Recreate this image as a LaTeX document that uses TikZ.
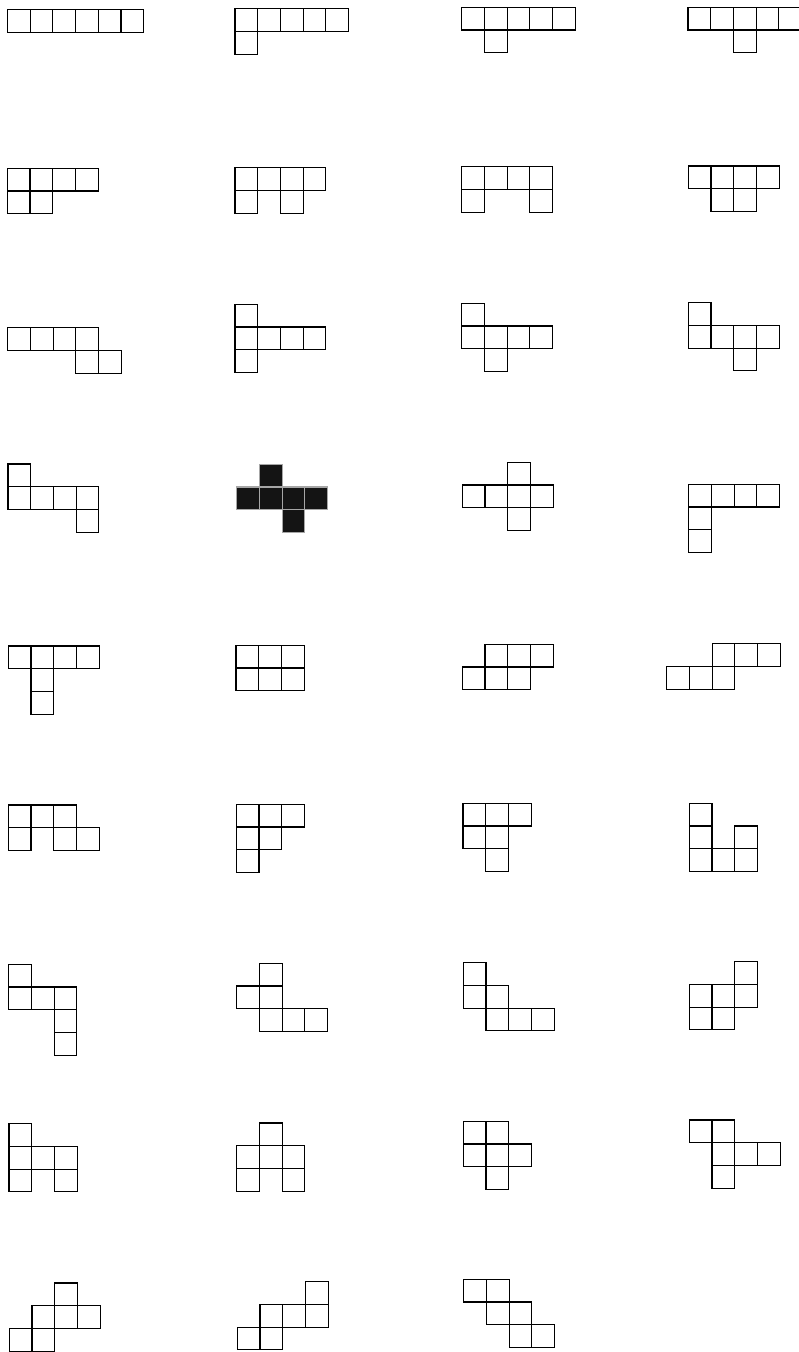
\documentclass[tikz,border=0pt]{standalone}
\usepackage{tikz}

\begin{document}
\begin{tikzpicture}[x=0.02cm,y=-0.02cm,
    cell/.style={draw=black,line width=0.6pt,fill=white},
    dark/.style={draw=black!35,line width=0.6pt,fill=black!92}]
    \useasboundingbox (0,0) rectangle (798,1352);

    % Row 1
    \begin{scope}[shift={(7.5,9.5)}]
        \foreach \c/\r in {0/0,1/0,2/0,3/0,4/0,5/0} \draw[cell] (\c*22.7,\r*22.7) rectangle ++(22.7,22.7);
    \end{scope}
    \begin{scope}[shift={(235,8.7)}]
        \foreach \c/\r in {0/0,1/0,2/0,3/0,4/0,0/1} \draw[cell] (\c*22.7,\r*22.7) rectangle ++(22.7,22.7);
    \end{scope}
    \begin{scope}[shift={(461.7,7.3)}]
        \foreach \c/\r in {0/0,1/0,2/0,3/0,4/0,1/1} \draw[cell] (\c*22.7,\r*22.7) rectangle ++(22.7,22.7);
    \end{scope}
    \begin{scope}[shift={(688,7.3)}]
        \foreach \c/\r in {0/0,1/0,2/0,3/0,4/0,2/1} \draw[cell] (\c*22.7,\r*22.7) rectangle ++(22.7,22.7);
    \end{scope}

    % Row 2
    \begin{scope}[shift={(7.3,168.3)}]
        \foreach \c/\r in {0/0,1/0,2/0,3/0,0/1,1/1} \draw[cell] (\c*22.7,\r*22.7) rectangle ++(22.7,22.7);
    \end{scope}
    \begin{scope}[shift={(235,167.7)}]
        \foreach \c/\r in {0/0,1/0,2/0,3/0,0/1,2/1} \draw[cell] (\c*22.7,\r*22.7) rectangle ++(22.7,22.7);
    \end{scope}
    \begin{scope}[shift={(461.7,166.7)}]
        \foreach \c/\r in {0/0,1/0,2/0,3/0,0/1,3/1} \draw[cell] (\c*22.7,\r*22.7) rectangle ++(22.7,22.7);
    \end{scope}
    \begin{scope}[shift={(688.3,166)}]
        \foreach \c/\r in {0/0,1/0,2/0,3/0,1/1,2/1} \draw[cell] (\c*22.7,\r*22.7) rectangle ++(22.7,22.7);
    \end{scope}

    % Row 3
    \begin{scope}[shift={(7.7,327.7)}]
        \foreach \c/\r in {0/0,1/0,2/0,3/0,3/1,4/1} \draw[cell] (\c*22.7,\r*22.7) rectangle ++(22.7,22.7);
    \end{scope}
    \begin{scope}[shift={(235,304.3)}]
        \foreach \c/\r in {0/0,0/1,1/1,2/1,3/1,0/2} \draw[cell] (\c*22.7,\r*22.7) rectangle ++(22.7,22.7);
    \end{scope}
    \begin{scope}[shift={(461.7,303.3)}]
        \foreach \c/\r in {0/0,0/1,1/1,2/1,3/1,1/2} \draw[cell] (\c*22.7,\r*22.7) rectangle ++(22.7,22.7);
    \end{scope}
    \begin{scope}[shift={(688.3,302.7)}]
        \foreach \c/\r in {0/0,0/1,1/1,2/1,3/1,2/2} \draw[cell] (\c*22.7,\r*22.7) rectangle ++(22.7,22.7);
    \end{scope}

    % Row 4 (the dark one)
    \begin{scope}[shift={(8,464)}]
        \foreach \c/\r in {0/0,0/1,1/1,2/1,3/1,3/2} \draw[cell] (\c*22.7,\r*22.7) rectangle ++(22.7,22.7);
    \end{scope}
    \begin{scope}[shift={(236.7,464.3)}]
        \foreach \c/\r in {1/0,0/1,1/1,2/1,3/1,2/2} \draw[dark] (\c*22.7,\r*22.7) rectangle ++(22.7,22.7);
    \end{scope}
    \begin{scope}[shift={(462.3,462.3)}]
        \foreach \c/\r in {2/0,0/1,1/1,2/1,3/1,2/2} \draw[cell] (\c*22.7,\r*22.7) rectangle ++(22.7,22.7);
    \end{scope}
    \begin{scope}[shift={(688.7,484.3)}]
        \foreach \c/\r in {0/0,1/0,2/0,3/0,0/1,0/2} \draw[cell] (\c*22.7,\r*22.7) rectangle ++(22.7,22.7);
    \end{scope}

    % Row 5
    \begin{scope}[shift={(8.3,646)}]
        \foreach \c/\r in {0/0,1/0,2/0,3/0,1/1,1/2} \draw[cell] (\c*22.7,\r*22.7) rectangle ++(22.7,22.7);
    \end{scope}
    \begin{scope}[shift={(236,645.3)}]
        \foreach \c/\r in {0/0,1/0,2/0,0/1,1/1,2/1} \draw[cell] (\c*22.7,\r*22.7) rectangle ++(22.7,22.7);
    \end{scope}
    \begin{scope}[shift={(462.3,644.3)}]
        \foreach \c/\r in {1/0,2/0,3/0,0/1,1/1,2/1} \draw[cell] (\c*22.7,\r*22.7) rectangle ++(22.7,22.7);
    \end{scope}
    \begin{scope}[shift={(666.7,643.7)}]
        \foreach \c/\r in {2/0,3/0,4/0,0/1,1/1,2/1} \draw[cell] (\c*22.7,\r*22.7) rectangle ++(22.7,22.7);
    \end{scope}

    % Row 6
    \begin{scope}[shift={(8.3,805)}]
        \foreach \c/\r in {0/0,1/0,2/0,0/1,2/1,3/1} \draw[cell] (\c*22.7,\r*22.7) rectangle ++(22.7,22.7);
    \end{scope}
    \begin{scope}[shift={(236.3,804.3)}]
        \foreach \c/\r in {0/0,1/0,2/0,0/1,1/1,0/2} \draw[cell] (\c*22.7,\r*22.7) rectangle ++(22.7,22.7);
    \end{scope}
    \begin{scope}[shift={(463,803.3)}]
        \foreach \c/\r in {0/0,1/0,2/0,0/1,1/1,1/2} \draw[cell] (\c*22.7,\r*22.7) rectangle ++(22.7,22.7);
    \end{scope}
    \begin{scope}[shift={(689.3,803.3)}]
        \foreach \c/\r in {0/0,0/1,2/1,0/2,1/2,2/2} \draw[cell] (\c*22.7,\r*22.7) rectangle ++(22.7,22.7);
    \end{scope}

    % Row 7
    \begin{scope}[shift={(8.7,964.3)}]
        \foreach \c/\r in {0/0,0/1,1/1,2/1,2/2,2/3} \draw[cell] (\c*22.7,\r*22.7) rectangle ++(22.7,22.7);
    \end{scope}
    \begin{scope}[shift={(236.7,963.3)}]
        \foreach \c/\r in {1/0,0/1,1/1,1/2,2/2,3/2} \draw[cell] (\c*22.7,\r*22.7) rectangle ++(22.7,22.7);
    \end{scope}
    \begin{scope}[shift={(463.3,962.7)}]
        \foreach \c/\r in {0/0,0/1,1/1,1/2,2/2,3/2} \draw[cell] (\c*22.7,\r*22.7) rectangle ++(22.7,22.7);
    \end{scope}
    \begin{scope}[shift={(689.3,961.7)}]
        \foreach \c/\r in {2/0,0/1,1/1,2/1,0/2,1/2} \draw[cell] (\c*22.7,\r*22.7) rectangle ++(22.7,22.7);
    \end{scope}

    % Row 8
    \begin{scope}[shift={(9,1123.7)}]
        \foreach \c/\r in {0/0,0/1,1/1,2/1,0/2,2/2} \draw[cell] (\c*22.7,\r*22.7) rectangle ++(22.7,22.7);
    \end{scope}
    \begin{scope}[shift={(236.7,1123)}]
        \foreach \c/\r in {1/0,0/1,1/1,2/1,0/2,2/2} \draw[cell] (\c*22.7,\r*22.7) rectangle ++(22.7,22.7);
    \end{scope}
    \begin{scope}[shift={(463.3,1121.3)}]
        \foreach \c/\r in {0/0,1/0,0/1,1/1,2/1,1/2} \draw[cell] (\c*22.7,\r*22.7) rectangle ++(22.7,22.7);
    \end{scope}
    \begin{scope}[shift={(689.3,1120)}]
        \foreach \c/\r in {0/0,1/0,1/1,2/1,3/1,1/2} \draw[cell] (\c*22.7,\r*22.7) rectangle ++(22.7,22.7);
    \end{scope}

    % Row 9
    \begin{scope}[shift={(9.3,1283)}]
        \foreach \c/\r in {2/0,1/1,2/1,3/1,0/2,1/2} \draw[cell] (\c*22.7,\r*22.7) rectangle ++(22.7,22.7);
    \end{scope}
    \begin{scope}[shift={(237.3,1281.7)}]
        \foreach \c/\r in {3/0,1/1,2/1,3/1,0/2,1/2} \draw[cell] (\c*22.7,\r*22.7) rectangle ++(22.7,22.7);
    \end{scope}
    \begin{scope}[shift={(463.7,1279.3)}]
        \foreach \c/\r in {0/0,1/0,1/1,2/1,2/2,3/2} \draw[cell] (\c*22.7,\r*22.7) rectangle ++(22.7,22.7);
    \end{scope}
\end{tikzpicture}
\end{document}
